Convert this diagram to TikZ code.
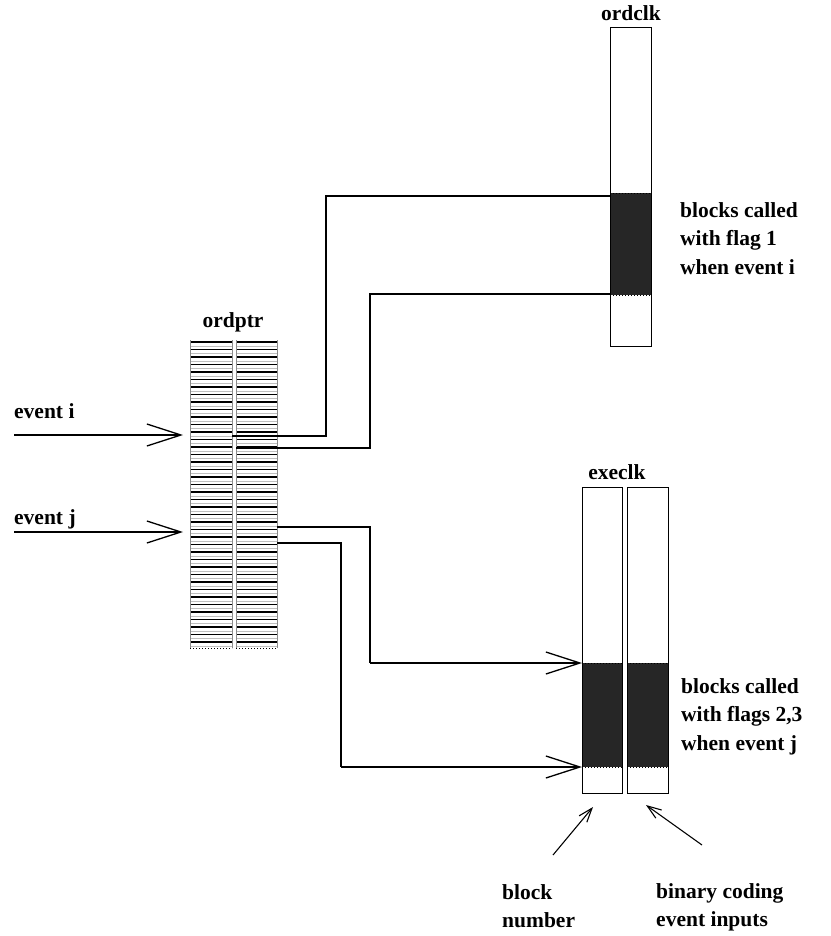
\documentclass[tikz,border=0pt]{standalone}
\usepackage{fontspec}
\setmainfont{Liberation Serif}
\usetikzlibrary{arrows.meta}
\begin{document}
\begin{tikzpicture}[x=1pt,y=-1pt,
  lbl/.style={font=\fontsize{21.5}{28.5}\selectfont\bfseries, inner sep=0pt},
  mlbl/.style={lbl, align=left, anchor=north west},
  colbox/.style={draw=black, line width=1.3pt},
  conn/.style={line width=1.2pt},
  bigarr/.style={line width=1.2pt, -{Straight Barb[length=34pt,width=22pt,line width=1.3pt]}},
  smallarr/.style={line width=1.1pt, -{Straight Barb[length=14pt,width=10pt,line width=1.1pt]}},
  hatch/.style={line width=1.8pt, black},
  hatchg/.style={line width=0.5pt, black!25}
]
\useasboundingbox (0,0) rectangle (830,936);
\fill[white] (0,0) rectangle (830,936);

% ordclk
\fill[black!85] (610,193) rectangle (651,295);
\draw[dotted, line width=1pt] (610,193) -- (651,193) (610,295) -- (651,295);
\node[colbox, minimum width=41pt, minimum height=319pt, inner sep=0pt, anchor=north west] (ordclk) at (610,27) {};
\node[lbl] (ordclkl) at (631,13) {ordclk};
\coordinate (oc1) at (610,196);
\coordinate (oc2) at (610,294);
\node[mlbl] (t1) at (680,202) {blocks called\\with flag 1\\when event i};

% ordptr
\node[lbl] (ordptrl) at (233,322) {ordptr};
\foreach \xa/\xb in {190/232,236/277}{
  \foreach \k in {0,...,40}{
    \pgfmathsetmacro{\yy}{342+\k*7.5}
    \draw[hatch] (\xa,\yy) -- (\xb,\yy);
    \draw[hatchg] (\xa,\yy+3.8) -- (\xb,\yy+3.8);
  }
  \draw[black!45, line width=0.8pt] (\xa,340) -- (\xa,648) (\xb,340) -- (\xb,648);
  \draw[dotted, line width=1pt] (\xa,648) -- (\xb,648);
}
\coordinate (p1) at (232,436);
\coordinate (p2) at (236,448);
\coordinate (p3) at (277,527);
\coordinate (p4) at (277,543);
\coordinate (ordptrL1) at (183,435);
\coordinate (ordptrL2) at (183,532);

% event arrows
\node[lbl, anchor=west] (ei) at (14,411) {event i};
\node[lbl, anchor=west] (ej) at (14,519) {event j};
\coordinate (ei0) at (14,435);
\coordinate (ej0) at (14,532);
\draw[bigarr] (ei0) -- (ordptrL1);
\draw[bigarr] (ej0) -- (ordptrL2);

% connectors to ordclk
\draw[conn] (p1) -- (326,436) -- (326,196) -- (oc1);
\draw[conn] (p2) -- (370,448) -- (370,294) -- (oc2);

% execlk
\node[lbl] (execlkl) at (617,472) {execlk};
\fill[black!85] (582,663) rectangle (622,767);
\fill[black!85] (627,663) rectangle (668,767);
\draw[dotted, line width=1pt] (582,663) -- (622,663) (582,767) -- (622,767) (627,663) -- (668,663) (627,767) -- (668,767);
\node[colbox, minimum width=40pt, minimum height=306pt, inner sep=0pt, anchor=north west] (ex1) at (582,487) {};
\node[colbox, minimum width=41pt, minimum height=306pt, inner sep=0pt, anchor=north west] (ex2) at (627,487) {};
\coordinate (e1) at (582,663);
\coordinate (e2) at (582,767);
\node[mlbl] (t2) at (681,678) {blocks called\\with flags 2,3\\when event j};

\draw[conn] (p3) -- (370,527) -- (370,663);
\draw[bigarr] (370,663) -- (e1);
\draw[conn] (p4) -- (341,543) -- (341,767);
\draw[bigarr] (341,767) -- (e2);

% bottom labels
\node[mlbl] (bn) at (502,884) {block\\number};
\node[mlbl] (bc) at (656,883) {binary coding\\event inputs};
\coordinate (bna) at (593,807);
\coordinate (bca) at (646,805);
\draw[smallarr] (553,855) -- (bna);
\draw[smallarr] (702,845) -- (bca);
\end{tikzpicture}
\end{document}
